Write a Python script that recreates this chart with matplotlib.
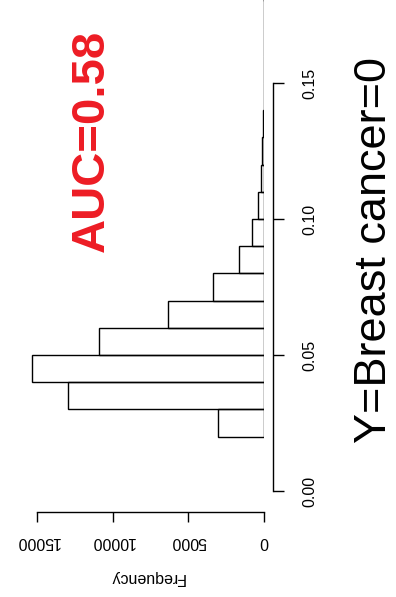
import matplotlib
matplotlib.use("Agg")
import matplotlib.pyplot as plt
import numpy as np

plt.rcParams['font.family'] = ['Liberation Sans', 'DejaVu Sans']

# Histogram data (bin width 0.01)
bin_left = [0.02, 0.03, 0.04, 0.05, 0.06, 0.07, 0.08, 0.09, 0.10, 0.11,
            0.12, 0.13, 0.14, 0.15, 0.16, 0.17, 0.18, 0.19]
counts = [3040, 12980, 15340, 10900, 6350, 3370, 1650, 790, 420, 180,
          110, 60, 20, 10, 5, 3, 2, 1]
value_ticks = [0.00, 0.05, 0.10, 0.15]
freq_ticks = [0, 5000, 10000, 15000]
title = "Y=Breast cancer=0"
auc_text = "AUC=0.58"
freq_label = "Frequency"

W, H = 396, 597
fig = plt.figure(figsize=(W / 100, H / 100), dpi=100)
px = 0.72  # points per pixel at dpi 100

left_px, right_px, bottom_px, top_px = 14.5, 264, 491, 0
ax = fig.add_axes([left_px / W, (H - bottom_px) / H,
                   (right_px - left_px) / W, (bottom_px - top_px) / H])

ax.barh(bin_left, counts, height=0.01, align='edge', fill=False,
        edgecolor='black', linewidth=1.0)
ax.set_xlim(16500, 0)
ax.set_ylim(0, 0.1805)

for s in ['top', 'left']:
    ax.spines[s].set_visible(False)
ax.spines['right'].set_position(('outward', 9 * px))
ax.spines['right'].set_bounds(0, 0.15)
ax.spines['bottom'].set_position(('outward', 20.7 * px))
ax.spines['bottom'].set_bounds(0, 15000)
for s in ['right', 'bottom']:
    ax.spines[s].set_linewidth(1.0)

ax.yaxis.tick_right()
ax.set_yticks(value_ticks)
ax.set_yticklabels(["%.2f" % v for v in value_ticks], rotation=90,
                   va='center', fontsize=11.5)
ax.tick_params(axis='y', direction='out', length=11 * px, width=1.0,
               pad=18 * px)

ax.set_xticks(freq_ticks)
ax.set_xticklabels([str(v) for v in freq_ticks], rotation=180,
                   ha='center', fontsize=11.5)
ax.tick_params(axis='x', direction='out', length=10 * px, width=1.0,
               pad=12 * px)

ax.set_xlabel(freq_label, rotation=180, fontsize=11.5)
ax.xaxis.set_label_coords((147 - left_px) / (right_px - left_px),
                          (bottom_px - 578) / (bottom_px - top_px))
ax.xaxis.label.set_va('center')

fig.text(374 / W, (H - 250) / H, title, rotation=90, ha='center',
         va='center', fontsize=32.5)
fig.text(92 / W, (H - 141) / H, auc_text, rotation=90, ha='center',
         va='center', fontsize=34, fontweight='bold', color='#ED1C24')

fig.savefig("out.png", dpi=100)
